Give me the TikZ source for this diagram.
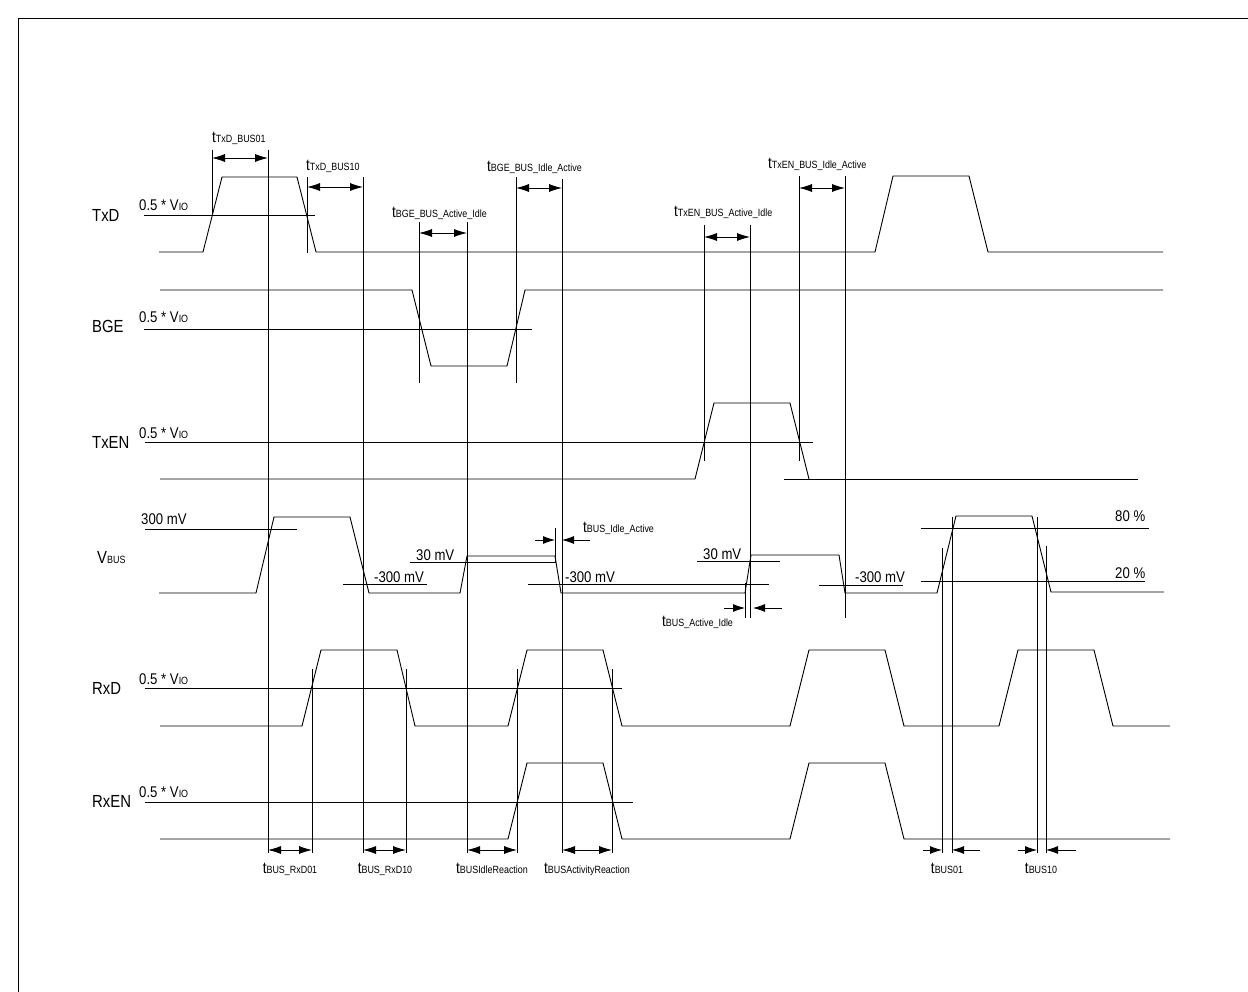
\documentclass[tikz,border=0pt]{standalone}
\usepackage{fontspec}
\setmainfont{Liberation Sans}[FakeStretch=0.85]
\usetikzlibrary{arrows.meta}
\newcommand{\lsub}[1]{{\fontsize{10.5}{12}\selectfont #1}}
\newcommand{\tlab}[1]{{\fontsize{16}{18}\selectfont t}\lsub{#1}}
\newcommand{\vio}{0.5 * V\lsub{IO}}
\tikzset{
  sig/.style={line width=0.9pt},
  thr/.style={line width=0.8pt},
  mk/.style={line width=0.8pt},
  dim/.style={line width=0.8pt,{Latex[length=13pt,width=8pt]}-{Latex[length=13pt,width=8pt]}},
  dimtip/.style={line width=0.8pt,-{Latex[length=12pt,width=8pt]}},
  lab/.style={anchor=base west,inner sep=0pt,font=\fontsize{15.5}{17}\selectfont},
  signame/.style={anchor=base west,inner sep=0pt,font=\fontsize{17.5}{19}\selectfont},
  tlbl/.style={anchor=base west,inner sep=0pt},
  blbl/.style={anchor=base,inner sep=0pt}
}
\begin{document}
\begin{tikzpicture}[x=1pt,y=-1pt]
\useasboundingbox (0,0) rectangle (1248,992);
\draw[thr] (18,992) -- (18,18) -- (1248,18);
\draw[sig] (159,252)--(203,252)--(222,177)--(297,177)--(316,252)--(875,252)--(893,176)--(969,176)--(988,252)--(1163,252);
\draw[sig] (160,290)--(412,290)--(431,366)--(507,366)--(525,290)--(1163,290);
\draw[sig] (160,479)--(695,479)--(714,403)--(790,403)--(809,479);
\draw[sig] (784,479)--(1138,479);
\draw[sig] (159,593)--(256,593)--(274,517)--(350,517)--(369,593)--(460,593)--(467,556)--(555,556)--(561,593)--(745,593)--(751,555)--(839,555)--(845,593)--(937,593)--(956,516)--(1032,516)--(1051,592)--(1164,592);
\draw[sig] (160,726)--(302,726)--(321,650)--(397,650)--(415,726)--(508,726)--(527,650)--(603,650)--(622,726)--(790,726)--(809,650)--(885,650)--(904,726)--(999,726)--(1018,650)--(1094,650)--(1113,726)--(1170,726);
\draw[sig] (160,839)--(508,839)--(527,763)--(603,763)--(622,839)--(790,839)--(809,763)--(885,763)--(904,839)--(1170,839);
\foreach \xa/\xb/\y in {144/315/215, 144/532/329, 145/813/442, 145/297/529, 343/427/584, 410/555/562, 528/769/584, 697/780/561, 819/903/585, 921/1149/528, 921/1145/581, 145/622/688, 145/633/802}
  \draw[thr] (\xa,\y) -- (\xb,\y);
\foreach \x/\ya/\yb in {212/150/215, 268/150/853, 307/177/253, 363/177/853, 419/222/383, 467/222/853, 516/177/383, 562/179/853, 704/225/461, 750/225/618, 799/176/461, 845/176/618, 555/528/563, 745/583/618, 312/669/853, 406/669/853, 517/669/853, 612/669/853, 942/548/853, 952/517/853, 1037/517/853, 1046/546/853}
  \draw[mk] (\x,\ya) -- (\x,\yb);
\foreach \xa/\xb/\y in {212/268/158, 307/363/187, 419/467/233, 516/562/188, 704/750/237, 799/845/188, 268/312/850, 363/406/850, 467/517/850, 562/612/850}
  \draw[dim] (\xa,\y) -- (\xb,\y);
\foreach \xa/\xb/\y in {535/555/540, 590/562/540, 724/745/608, 782/753/608, 923/942/850, 980/952/850, 1018/1037/850, 1076/1046/850}
  \draw[dimtip] (\xa,\y) -- (\xb,\y);
\foreach \n/\t/\y in {txd/TxD/222, bge/BGE/333, txen/TxEN/448, rxd/RxD/694, rxen/RxEN/807}
  \node[signame] (\n) at (92,\y) {\t};
\node[signame] (vbus) at (97,563) {V\lsub{BUS}};
\foreach \n/\y in {txd/211, bge/323, txen/438, rxd/684, rxen/797}
  \node[lab] (v\n) at (139,\y) {\vio};
\node[lab] (hi300) at (141,524) {300 mV};
\foreach \i/\x in {1/374, 2/565, 3/855}
  \node[lab] (lo300\i) at (\x,582) {-300 mV};
\node[lab] (hi30a) at (416,560) {30 mV};
\node[lab] (hi30b) at (703,559) {30 mV};
\node[lab] (p80) at (1115,521) {80 \%};
\node[lab] (p20) at (1115,578) {20 \%};
\node[tlbl] (ttxd01) at (212,143) {\tlab{TxD\_BUS01}};
\node[tlbl] (ttxd10) at (306,171) {\tlab{TxD\_BUS10}};
\node[tlbl] (tbgeai) at (392,218) {\tlab{BGE\_BUS\_Active\_Idle}};
\node[tlbl] (tbgeia) at (487,172) {\tlab{BGE\_BUS\_Idle\_Active}};
\node[tlbl] (ttxenai) at (674,217) {\tlab{TxEN\_BUS\_Active\_Idle}};
\node[tlbl] (ttxenia) at (768,169) {\tlab{TxEN\_BUS\_Idle\_Active}};
\node[tlbl] (tbusia) at (583,532) {\tlab{BUS\_Idle\_Active}};
\node[tlbl] (tbusai) at (662,626) {\tlab{BUS\_Active\_Idle}};
\node[blbl] (trxd01) at (290,873) {\tlab{BUS\_RxD01}};
\node[blbl] (trxd10) at (385,873) {\tlab{BUS\_RxD10}};
\node[blbl] (tidle) at (492,873) {\tlab{BUSIdleReaction}};
\node[blbl] (tact) at (587,873) {\tlab{BUSActivityReaction}};
\node[blbl] (tbus01) at (947,873) {\tlab{BUS01}};
\node[blbl] (tbus10) at (1041,873) {\tlab{BUS10}};
\end{tikzpicture}
\end{document}
